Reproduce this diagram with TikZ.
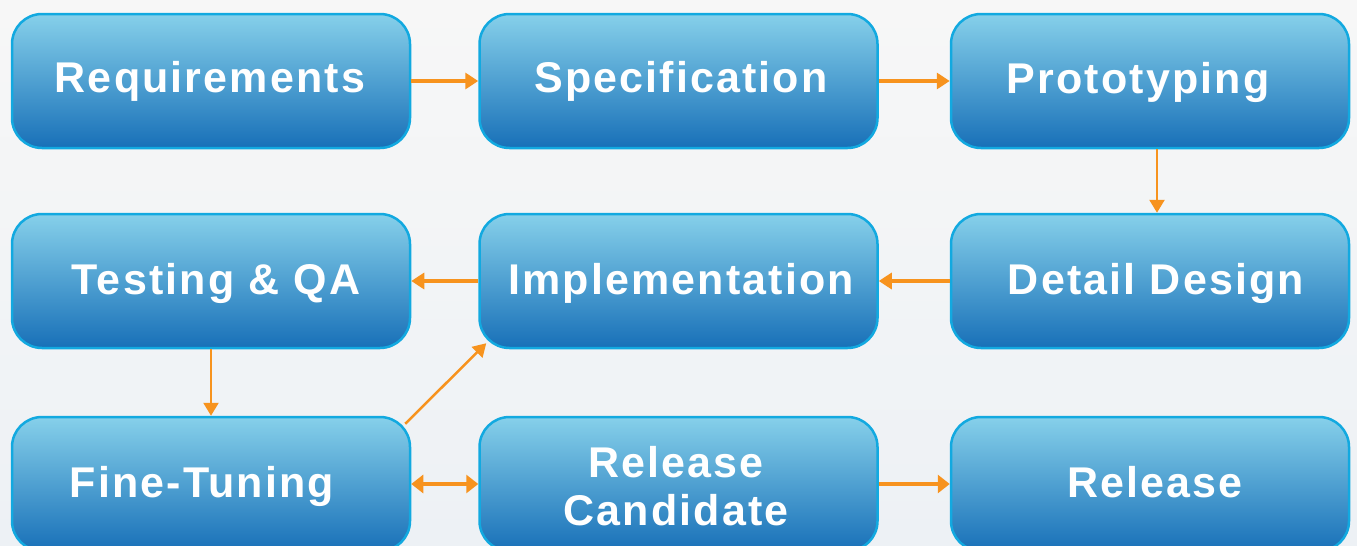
\documentclass[tikz,border=0pt]{standalone}
\usepackage{fontspec}
\setmainfont{Liberation Sans}[LetterSpace=5]
\usetikzlibrary{arrows.meta,calc}
\definecolor{boxtop}{HTML}{86D0EA}
\definecolor{boxbot}{HTML}{1870B8}
\definecolor{boxline}{HTML}{12A9E0}
\definecolor{arr}{HTML}{F7931E}
\definecolor{bgtop}{HTML}{F7F7F7}
\definecolor{bgbot}{HTML}{EDF1F5}
\tikzset{
  stepbox/.style={rounded corners=30pt, draw=boxline, line width=2.5pt,
    top color=boxtop, bottom color=boxbot, minimum width=398pt,
    minimum height=134pt, inner sep=0pt},
  lbl/.style={text=white, font=\bfseries\fontsize{43}{48}\selectfont, anchor=base, inner sep=0pt, align=center},
  conn/.style={draw=arr, line width=3.5pt, -{Triangle[length=13pt,width=16pt]}},
  thin/.style={draw=arr, line width=2.5pt, -{Triangle[length=13pt,width=15pt]}},
  thick/.style={draw=arr, line width=4.5pt, -{Triangle[length=12pt,width=18pt]}},
}
\begin{document}
\begin{tikzpicture}[x=1pt,y=-1pt]
\useasboundingbox (0,0) rectangle (1357,546);
\fill[top color=bgtop, bottom color=bgbot] (0,0) rectangle (1357,546);
% boxes
\node[stepbox] (req) at (211,81) {};
\node[stepbox] (spec) at (678.5,81) {};
\node[stepbox] (proto) at (1150,81) {};
\node[stepbox] (test) at (211,281) {};
\node[stepbox] (impl) at (678.5,281) {};
\node[stepbox] (detail) at (1150,281) {};
\node[stepbox] (fine) at (211,484) {};
\node[stepbox] (rc) at (678.5,484) {};
\node[stepbox] (rel) at (1150,484) {};
% labels
\node[lbl] (treq) at (210,92) {Requirements};
\node[lbl] (tspec) at (681,92) {Specification};
\node[lbl] (tproto) at (1138,93) {Prototyping};
\node[lbl] (ttest) at (216,294) {Testing \& QA};
\node[lbl] (timpl) at (681,294) {Implementation};
\node[lbl] (tdetail) at (1156,294) {Detail Design};
\node[lbl] (tfine) at (202,497) {Fine-Tuning};
\node[lbl] (trc1) at (676,477) {Release};
\node[lbl] (trc2) at (676,525) {Candidate};
\node[lbl] (trel) at (1155,497) {Release};
% connectors
\draw[conn] (req) -- (spec);
\draw[conn] (spec) -- (proto);
\draw[thin] ($(proto.south)+(7,0)$) -- ($(detail.north)+(7,0)$);
\draw[conn] (detail) -- (impl);
\draw[conn] (impl) -- (test);
\draw[thin] (test) -- (fine);
\draw[thin] ($(fine.north east)+(-6,8)$) -- ($(impl.south west)+(8,-6)$);
\draw[thick, {Triangle[length=12pt,width=18pt]}-{Triangle[length=12pt,width=18pt]}] (fine) -- (rc);
\draw[thick] (rc) -- (rel);
\end{tikzpicture}
\end{document}
